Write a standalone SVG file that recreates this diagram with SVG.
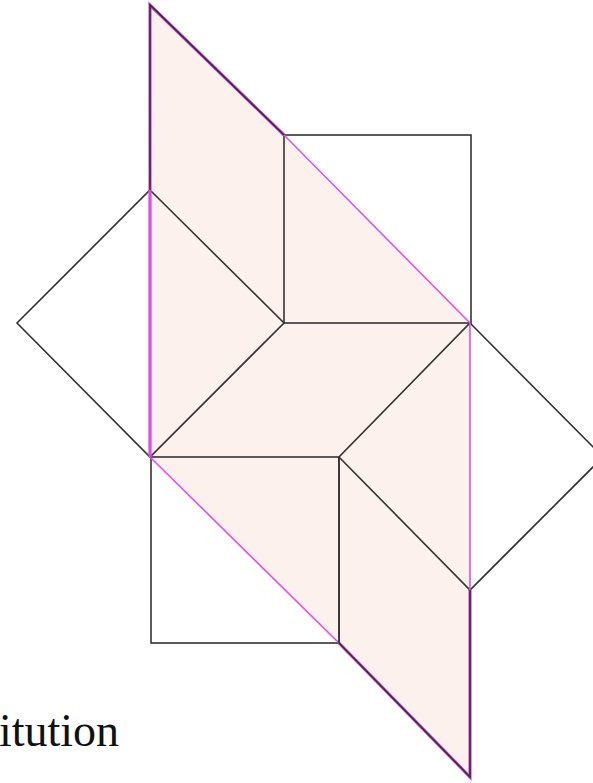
<svg xmlns="http://www.w3.org/2000/svg" width="593" height="783" viewBox="0 0 593 783">
<style>
.blk{fill:none;stroke:#333;stroke-width:1.6;stroke-linejoin:miter}
.mag{fill:none;stroke:#e050e8;stroke-width:1.6}
.both{fill:none;stroke:#d848e0;stroke-width:3.2}
.lbl{font-family:"Liberation Serif",serif;font-size:46px;fill:#111}
</style>
<rect width="593" height="783" fill="#fff"/>
<g id="region">
<polygon points="150,5 470,323 470,777 150,457" fill="#fdf1ee" stroke="none"/>
</g>
<g id="shapes">
<g id="top-square"><rect class="blk" x="284" y="135" width="187" height="188"/></g>
<g id="left-diamond"><polygon class="blk" points="150,190 284,323 150,457 17,323"/></g>
<g id="bottom-square"><rect class="blk" x="151" y="457" width="188" height="186"/></g>
<g id="right-diamond"><polygon class="blk" points="470,323 603,457 470,590 339,457"/></g>
</g>
<g id="connectors">
<polyline class="both" points="150,457 150,5 284,135"/>
<polyline class="both" points="339,643 470,777 470,590"/>
<line class="mag" x1="150" y1="190" x2="150" y2="457"/>
<line class="mag" x1="284" y1="135" x2="470" y2="323"/>
<line class="mag" x1="470" y1="323" x2="470" y2="590"/>
<line class="mag" x1="150" y1="457" x2="339" y2="643"/>
<polyline class="blk" points="150,190 150,5 284,135"/>
<polyline class="blk" points="339,643 470,777 470,590"/>
<line class="blk" x1="339" y1="457" x2="339" y2="643"/>
</g>
<text class="lbl" x="-1" y="746">itution</text>
</svg>
